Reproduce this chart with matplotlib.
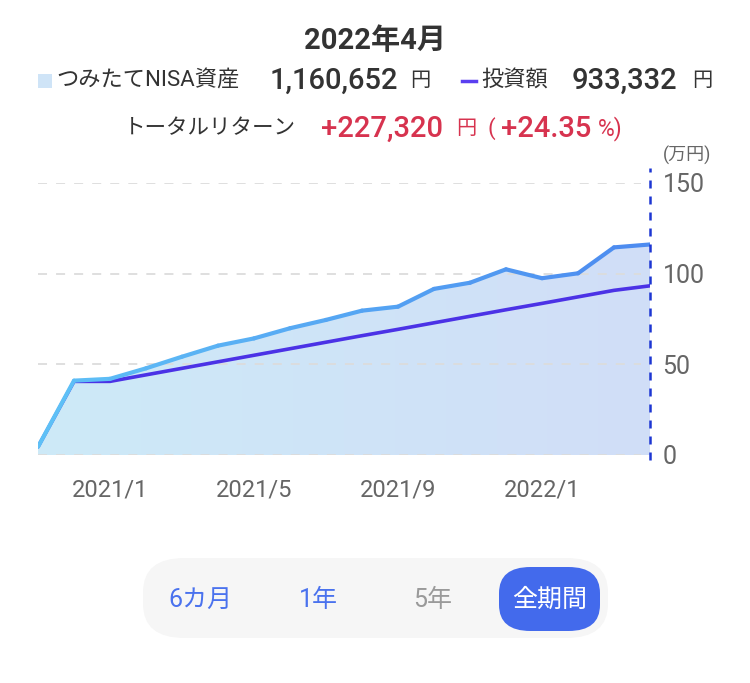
import numpy as np
import matplotlib
matplotlib.use("Agg")
import matplotlib.pyplot as plt
from matplotlib.collections import LineCollection
from matplotlib.colors import LinearSegmentedColormap
from matplotlib.patches import FancyBboxPatch, Polygon

months = ["2020/11", "2020/12", "2021/1", "2021/2", "2021/3", "2021/4", "2021/5", "2021/6",
          "2021/7", "2021/8", "2021/9", "2021/10", "2021/11", "2021/12", "2022/1", "2022/2",
          "2022/3", "2022/4"]
nisa_assets = [4.5, 41.0, 42.0, 47.8, 54.2, 60.3, 64.3, 69.9, 74.5, 79.6, 81.8, 91.6, 95.0,
               102.4, 97.5, 100.2, 114.5, 116.1]
invested = [4.5, 40.6, 40.6, 44.2, 47.8, 51.4, 55.0, 58.6, 62.2, 65.8, 69.3, 72.9, 76.5,
            80.1, 83.6, 87.2, 90.8, 93.3]
xtick_labels = ["2021/1", "2021/5", "2021/9", "2022/1"]
ytick_values = [0, 50, 100, 150]

FONT = ["Roboto", "Noto Sans CJK JP", "DejaVu Sans"]
plt.rcParams["font.family"] = FONT

W, H = 750, 683
fig = plt.figure(figsize=(W / 100, H / 100), dpi=100)

def fx(px):
    return px / W

def fy(py):
    return 1 - py / H

ax = fig.add_axes([fx(38), fy(455), fx(650) - fx(38), fy(183) - fy(455)])
x = np.arange(len(months))
y1 = np.array(nisa_assets)
y2 = np.array(invested)
ax.set_xlim(0, len(months) - 1)
ax.set_ylim(0, 150)

# gradient fill under the asset line
fill_cmap = LinearSegmentedColormap.from_list("fill", ["#cdeaf7", "#d1def8"])
grad = np.linspace(0, 1, 256).reshape(1, -1)
img = ax.imshow(grad, cmap=fill_cmap, aspect="auto", extent=[0, len(months) - 1, 0, 150],
                origin="lower", zorder=1)
verts = np.vstack([np.column_stack([x, y1]), [[x[-1], 0], [0, 0]]])
clip = Polygon(verts, closed=True, transform=ax.transData, facecolor="none", edgecolor="none")
ax.add_patch(clip)
img.set_clip_path(clip)

# grid lines
for v in ytick_values:
    ax.plot([0, len(months) - 1.25], [v, v], color="#dcdcdc", lw=1.3, dashes=(5, 5), zorder=2)

# investment line
ax.plot(x, y2, color="#4b32e6", lw=2.6, solid_capstyle="round", solid_joinstyle="round", zorder=3)

# asset line with horizontal colour gradient
line_cmap = LinearSegmentedColormap.from_list("line", ["#5ec0f6", "#4d8cf0"])
pts = np.column_stack([x, y1]).reshape(-1, 1, 2)
segs = np.concatenate([pts[:-1], pts[1:]], axis=1)
lc = LineCollection(segs, colors=[line_cmap(i / (len(segs) - 1)) for i in range(len(segs))],
                    linewidths=3.0, capstyle="round", joinstyle="round", zorder=4)
ax.add_collection(lc)

# vertical dashed cursor
ax.plot([x[-1], x[-1]], [-3, 158], color="#1d36d2", lw=1.8, dashes=(3.2, 3.2), zorder=5, clip_on=False)

# axes styling
for s in ax.spines.values():
    s.set_visible(False)
ax.set_xticks([months.index(m) for m in xtick_labels])
ax.set_xticklabels(xtick_labels)
ax.yaxis.tick_right()
ax.set_yticks(ytick_values)
ax.set_yticklabels([str(v) for v in ytick_values])
ax.tick_params(axis="both", length=0, colors="#666666")
ax.tick_params(axis="x", pad=17, labelsize=17)
ax.tick_params(axis="y", pad=9, labelsize=18)
ax.set_facecolor("white")

# header texts
fig.text(0.5, fy(41), "2022年4月", ha="center", va="center", fontsize=21, fontweight="bold", color="#333333")

row = fy(81)
dark = "#333333"
fig.patches.append(FancyBboxPatch((fx(38), fy(88)), fx(52) - fx(38), fy(74) - fy(88), boxstyle="square,pad=0",
                                  transform=fig.transFigure, facecolor="#cfe4f7", edgecolor="none"))
fig.text(fx(56), row, "つみたてNISA資産", ha="left", va="center", fontsize=16, color=dark)
fig.text(fx(270), row, "1,160,652", ha="left", va="center", fontsize=21, fontweight=500, color=dark)
fig.text(fx(410), row, "円", ha="left", va="center", fontsize=14.5, color=dark)
fig.lines.append(plt.Line2D([fx(462), fx(476)], [row, row], transform=fig.transFigure, color="#5a3ff0", lw=2.5))
fig.text(fx(481), row, "投資額", ha="left", va="center", fontsize=16, color=dark)
fig.text(fx(572), row, "933,332", ha="left", va="center", fontsize=21, fontweight=500, color=dark)
fig.text(fx(692), row, "円", ha="left", va="center", fontsize=14.5, color=dark)

row2 = fy(129)
red = "#d7334f"
fig.text(fx(124), row2, "トータルリターン", ha="left", va="center", fontsize=15.5, color=dark)
fig.text(fx(321), row2, "+227,320", ha="left", va="center", fontsize=21, fontweight=500, color=red)
fig.text(fx(456), row2, "円", ha="left", va="center", fontsize=14.5, color=red)
fig.text(fx(488), row2, "(", ha="left", va="center", fontsize=16, color=red)
fig.text(fx(501), row2, "+24.35", ha="left", va="center", fontsize=21, fontweight=500, color=red)
fig.text(fx(598), row2, "%)", ha="left", va="center", fontsize=16.5, color=red)

fig.text(fx(663), fy(155), "(万円)", ha="left", va="center", fontsize=13, color="#666666")

# period selector
fig.patches.append(FancyBboxPatch((fx(143), fy(638)), fx(608) - fx(143), fy(558) - fy(638),
                                  boxstyle="round,pad=0,rounding_size=0.055", mutation_aspect=683 / 750,
                                  transform=fig.transFigure, facecolor="#f6f6f6", edgecolor="none"))
fig.patches.append(FancyBboxPatch((fx(499), fy(631)), fx(600) - fx(499), fy(567) - fy(631),
                                  boxstyle="round,pad=0,rounding_size=0.042", mutation_aspect=683 / 750,
                                  transform=fig.transFigure, facecolor="#436aec", edgecolor="none"))
by = fy(600)
fig.text(fx(200), by, "6カ月", ha="center", va="center", fontsize=18, color="#4a72ee")
fig.text(fx(318), by, "1年", ha="center", va="center", fontsize=18, color="#4a72ee")
fig.text(fx(433), by, "5年", ha="center", va="center", fontsize=18, color="#9a9a9a")
fig.text(fx(550), by, "全期間", ha="center", va="center", fontsize=18, color="white")

fig.savefig("out.png", dpi=100, facecolor="white")
